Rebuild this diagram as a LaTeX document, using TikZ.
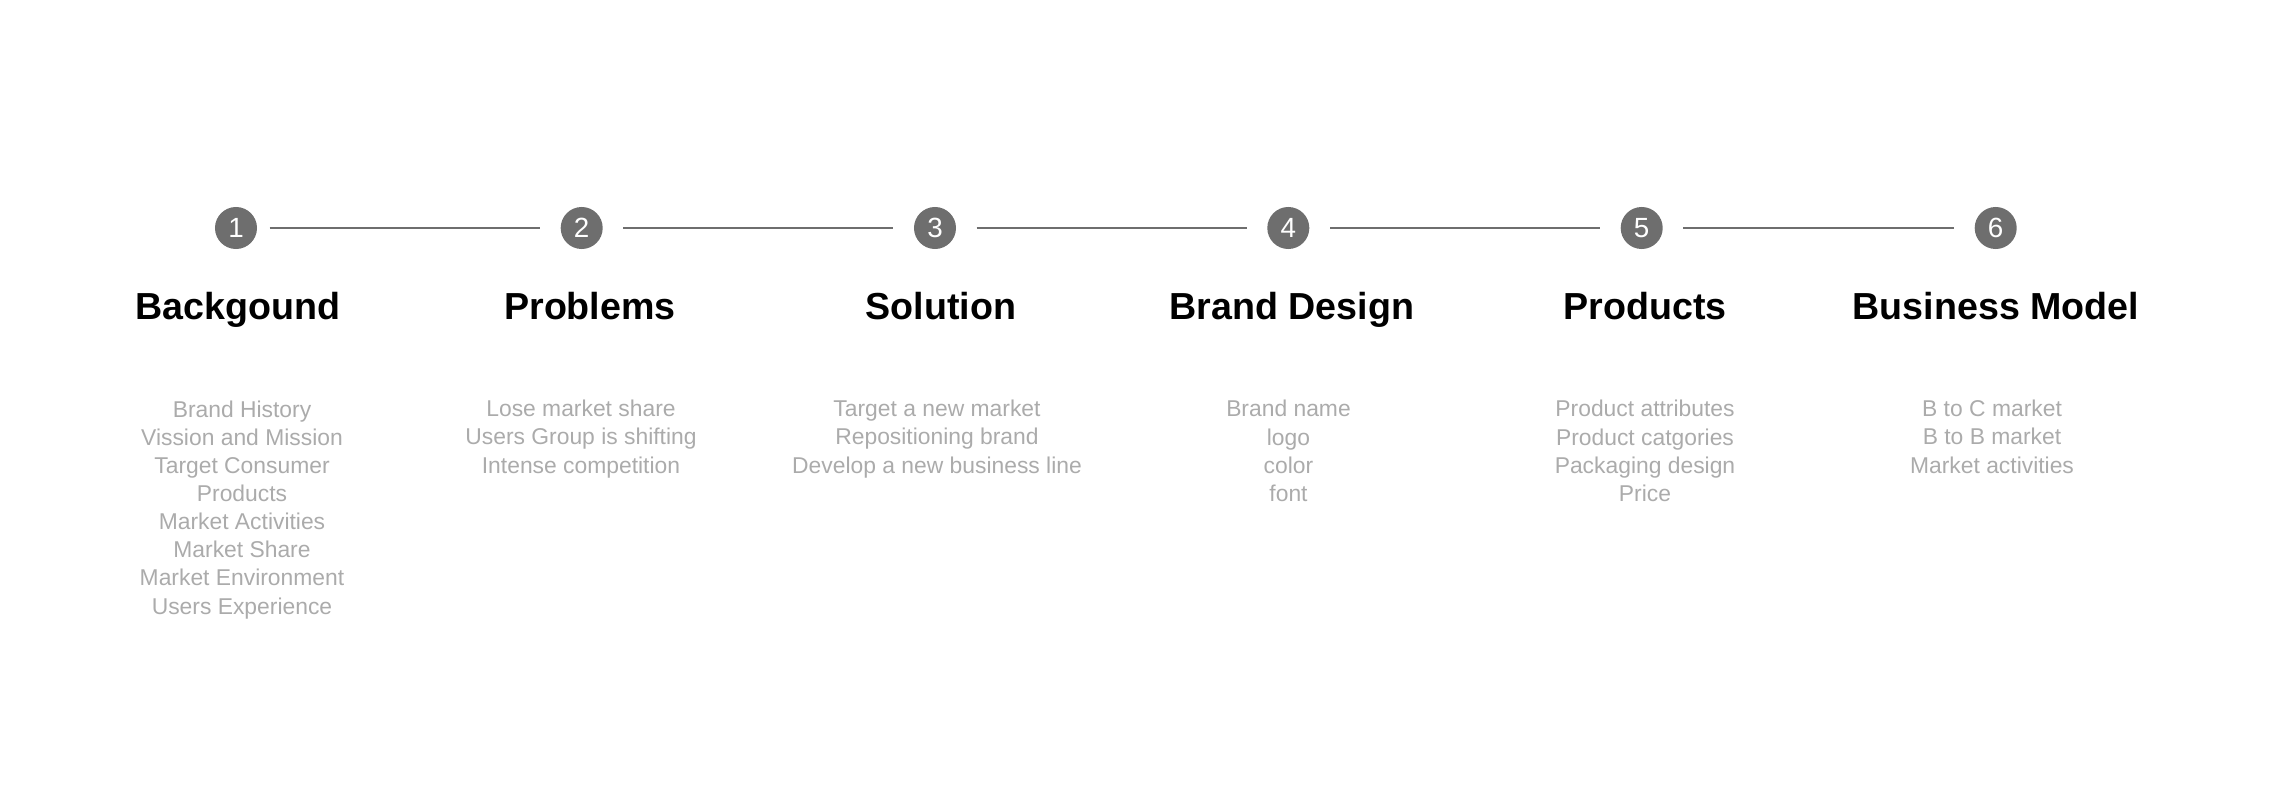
\documentclass[tikz,border=0pt]{standalone}
\usepackage{fontspec}
\setmainfont{Liberation Sans}
\definecolor{dotgray}{HTML}{6E6E6E}
\definecolor{itemgray}{HTML}{ABABAB}
\tikzset{
  numdot/.style={circle,fill=dotgray,text=white,minimum size=0.42cm,inner sep=0pt,font=\fontsize{7.9}{8}\selectfont},
  joinline/.style={draw=dotgray,line width=0.8pt,shorten <=0.2cm,shorten >=0.2cm},
  headline/.style={anchor=base,inner sep=0pt,font=\fontsize{10.7}{12}\selectfont\bfseries},
  itemlist/.style={anchor=base,inner sep=0pt,align=center,text=itemgray,font=\fontsize{6.5}{8}\selectfont}
}
\begin{document}
\begin{tikzpicture}[x=0.01cm,y=-0.01cm]
  \useasboundingbox (0,0) rectangle (2269,788);
%Punkte
  \node[numdot] (p1) at (236,228) {1};
  \node[numdot] (p2) at (581.7,228) {2};
  \node[numdot] (p3) at (935,228) {3};
  \node[numdot] (p4) at (1288.3,228) {4};
  \node[numdot] (p5) at (1641.7,228) {5};
  \node[numdot] (p6) at (1995.7,228) {6};
%Linien
  \draw[joinline,shorten <=0.12cm] (p1) -- (p2);
  \draw[joinline] (p2) -- (p3);
  \draw[joinline] (p3) -- (p4);
  \draw[joinline] (p4) -- (p5);
  \draw[joinline] (p5) -- (p6);
%Titel
  \node[headline] (t1) at (238,319.3) {Backgound};
  \node[headline] (t2) at (590,319.3) {Problems};
  \node[headline] (t3) at (941,319.3) {Solution};
  \node[headline] (t4) at (1292,319.3) {Brand Design};
  \node[headline] (t5) at (1645,319.3) {Products};
  \node[headline] (t6) at (1996,319.3) {Business Model};
%Punkte darunter (base = letzte Zeile)
  \node[itemlist] (l1) at (242,614.1)
    {Brand History\\Vission and Mission\\Target Consumer\\Products\\
     Market Activities\\Market Share\\Market Environment\\Users Experience};
  \node[itemlist] (l2) at (581,473.1)
    {Lose market share\\Users Group is shifting\\Intense competition};
  \node[itemlist] (l3) at (937,473.1)
    {Target a new market\\Repositioning brand\\Develop a new business line};
  \node[itemlist] (l4) at (1288.5,501.3)
    {Brand name\\logo\\color\\font};
  \node[itemlist] (l5) at (1645,501.3)
    {Product attributes\\Product catgories\\Packaging design\\Price};
  \node[itemlist] (l6) at (1992,473.1)
    {B to C market\\B to B market\\Market activities};
\end{tikzpicture}
\end{document}
